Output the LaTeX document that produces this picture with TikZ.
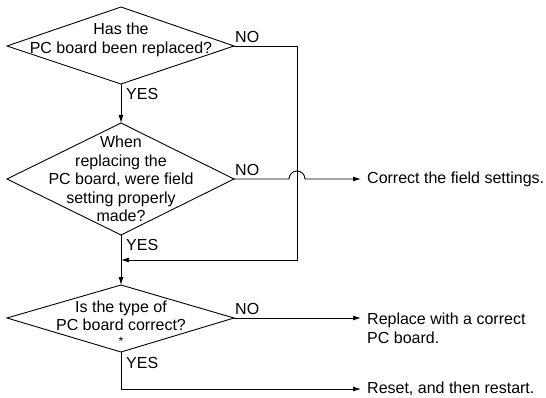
\documentclass[tikz,border=0pt]{standalone}
\usepackage{fontspec}
\setmainfont{Liberation Sans}
\usetikzlibrary{arrows.meta,positioning}
\begin{document}
\begin{tikzpicture}[x=1pt,y=-1pt,every node/.style={font=\fontsize{16}{18.5}\selectfont,inner sep=0pt},
  flowline/.style={line width=.9pt},
  flowarrow/.style={flowline,-{Latex[length=8pt,width=5pt]}},
  outcome/.style={anchor=base west,align=left,inner xsep=6pt}]
\useasboundingbox (0,0) rectangle (546,398);
\coordinate (d1t) at (121,7);
\coordinate (d1r) at (234,46);
\coordinate (d1b) at (121,84);
\coordinate (d1l) at (7,46);
\coordinate (d2t) at (121,123);
\coordinate (d2r) at (234,179);
\coordinate (d2b) at (121,235);
\coordinate (d2l) at (7,179);
\coordinate (d3t) at (121,285);
\coordinate (d3r) at (234,318);
\coordinate (d3b) at (121,352);
\coordinate (d3l) at (7,318);
\coordinate (loop) at (297,260);
\coordinate (join) at (121,260);
\draw[flowline] (d1t)--(d1r)--(d1b)--(d1l)--cycle;
\draw[flowline] (d2t)--(d2r)--(d2b)--(d2l)--cycle;
\draw[flowline] (d3t)--(d3r)--(d3b)--(d3l)--cycle;
\node[align=center] (q1) at (121,40) {Has the\\PC board been replaced?};
\node[align=center] (q2) at (121,179) {When\\replacing the\\PC board, were field\\setting properly\\made?};
\node[align=center] (q3) at (121,316) {Is the type of\\PC board correct?};
\node[font=\fontsize{12}{14}\selectfont] (star) at (121,341) {*};
\node[outcome,anchor=west] (fix) at (361,179) {Correct the field settings.};
\node[outcome] (repl) at (361,343) {Replace with a correct\\PC board.};
\node[outcome,anchor=west] (reset) at (361,389) {Reset, and then restart.};
\draw[flowarrow] (d1b)--(d2t);
\draw[flowarrow] (d2b)--(d3t);
\draw[flowarrow] (d1r)-|(loop)--(join);
\draw[flowarrow] (d2r)--(289,179) arc[start angle=180,end angle=360,radius=8]--(fix.west);
\draw[flowarrow] (d3r)--(d3r -| repl.west);
\draw[flowarrow] (d3b)|-(reset.west);
\node[anchor=south west,xshift=1pt,yshift=3pt] (no1) at (d1r) {NO};
\node[anchor=south west,xshift=1pt,yshift=3pt] (no2) at (d2r) {NO};
\node[anchor=south west,xshift=1pt,yshift=3pt] (no3) at (d3r) {NO};
\node[anchor=north west,xshift=5pt,yshift=-4pt] (yes1) at (d1b) {YES};
\node[anchor=north west,xshift=5pt,yshift=-4pt] (yes2) at (d2b) {YES};
\node[anchor=north west,xshift=5pt,yshift=-5pt] (yes3) at (d3b) {YES};
\end{tikzpicture}
\end{document}
